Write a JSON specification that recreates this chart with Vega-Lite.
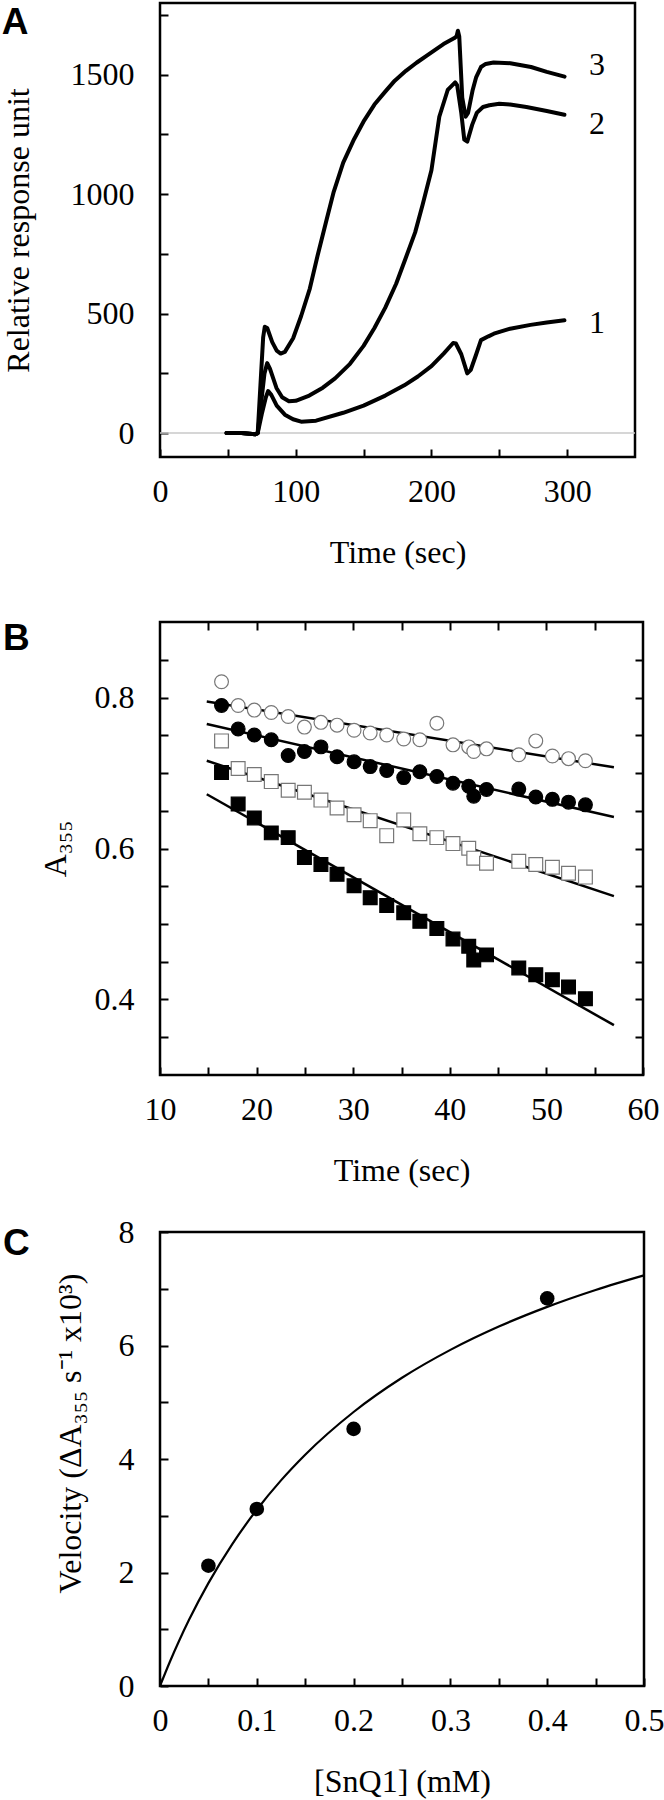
{
  "$schema": "https://vega.github.io/schema/vega-lite/v6.json",
  "padding": {"left": 0, "top": 1, "right": 0, "bottom": 0},
  "config": {
    "view": {"stroke": "#000", "strokeWidth": 2.5},
    "font": "Liberation Serif",
    "axis": {"grid": false, "domain": false, "tickColor": "#000", "tickWidth": 2, "tickSize": -8,
      "labelFont": "Liberation Serif", "labelFontSize": 32, "labelColor": "#000",
      "titleFont": "Liberation Serif", "titleFontSize": 32, "titleFontWeight": "normal", "titleColor": "#000",
      "labelOverlap": false, "labelFlush": false},
    "axisX": {"labelPadding": 27, "titlePadding": 30},
    "axisY": {"labelPadding": 34}
  },
  "datasets": {
    "spr": [
      {"c": "1", "t": 49, "r": 0}, {"c": "1", "t": 60, "r": 0}, {"c": "1", "t": 70, "r": -5}, {"c": "1", "t": 72, "r": 0}, {"c": "1", "t": 75, "r": 80}, {"c": "1", "t": 78, "r": 150}, {"c": "1", "t": 79.7, "r": 176}, {"c": "1", "t": 82, "r": 160}, {"c": "1", "t": 86, "r": 115}, {"c": "1", "t": 92, "r": 77}, {"c": "1", "t": 98, "r": 58}, {"c": "1", "t": 104, "r": 48}, {"c": "1", "t": 115, "r": 52}, {"c": "1", "t": 135, "r": 85}, {"c": "1", "t": 150, "r": 115}, {"c": "1", "t": 166, "r": 157}, {"c": "1", "t": 180, "r": 200}, {"c": "1", "t": 190, "r": 237}, {"c": "1", "t": 200, "r": 280}, {"c": "1", "t": 209, "r": 333}, {"c": "1", "t": 216, "r": 377}, {"c": "1", "t": 218, "r": 375}, {"c": "1", "t": 222, "r": 330}, {"c": "1", "t": 226.4, "r": 250}, {"c": "1", "t": 229, "r": 265}, {"c": "1", "t": 233, "r": 330}, {"c": "1", "t": 236.5, "r": 389}, {"c": "1", "t": 242, "r": 405}, {"c": "1", "t": 246, "r": 416}, {"c": "1", "t": 258, "r": 437}, {"c": "1", "t": 273, "r": 453}, {"c": "1", "t": 285, "r": 463}, {"c": "1", "t": 298, "r": 472},
      {"c": "2", "t": 49, "r": 0}, {"c": "2", "t": 60, "r": 0}, {"c": "2", "t": 70, "r": -5}, {"c": "2", "t": 72, "r": 0}, {"c": "2", "t": 75, "r": 150}, {"c": "2", "t": 77, "r": 250}, {"c": "2", "t": 79, "r": 293}, {"c": "2", "t": 81, "r": 270}, {"c": "2", "t": 85.8, "r": 189}, {"c": "2", "t": 90, "r": 150}, {"c": "2", "t": 95, "r": 133}, {"c": "2", "t": 100, "r": 135}, {"c": "2", "t": 110, "r": 157}, {"c": "2", "t": 120, "r": 190}, {"c": "2", "t": 129, "r": 229}, {"c": "2", "t": 140, "r": 290}, {"c": "2", "t": 150, "r": 365}, {"c": "2", "t": 158, "r": 440}, {"c": "2", "t": 166, "r": 525}, {"c": "2", "t": 174, "r": 625}, {"c": "2", "t": 181, "r": 732}, {"c": "2", "t": 188, "r": 840}, {"c": "2", "t": 193.5, "r": 956}, {"c": "2", "t": 200, "r": 1100}, {"c": "2", "t": 205.8, "r": 1324}, {"c": "2", "t": 212, "r": 1436}, {"c": "2", "t": 217.5, "r": 1468}, {"c": "2", "t": 219, "r": 1455}, {"c": "2", "t": 222, "r": 1340}, {"c": "2", "t": 224.2, "r": 1228}, {"c": "2", "t": 226.4, "r": 1220}, {"c": "2", "t": 230, "r": 1290}, {"c": "2", "t": 233.4, "r": 1340}, {"c": "2", "t": 238, "r": 1365}, {"c": "2", "t": 242.7, "r": 1372}, {"c": "2", "t": 250, "r": 1378}, {"c": "2", "t": 258, "r": 1375}, {"c": "2", "t": 270, "r": 1365}, {"c": "2", "t": 285, "r": 1348}, {"c": "2", "t": 298, "r": 1332},
      {"c": "3", "t": 49, "r": 0}, {"c": "3", "t": 60, "r": 0}, {"c": "3", "t": 70, "r": -5}, {"c": "3", "t": 72, "r": 0}, {"c": "3", "t": 74, "r": 200}, {"c": "3", "t": 76, "r": 400}, {"c": "3", "t": 77.2, "r": 445}, {"c": "3", "t": 79, "r": 440}, {"c": "3", "t": 82.7, "r": 381}, {"c": "3", "t": 86, "r": 345}, {"c": "3", "t": 88.9, "r": 333}, {"c": "3", "t": 92, "r": 340}, {"c": "3", "t": 98.1, "r": 397}, {"c": "3", "t": 104, "r": 490}, {"c": "3", "t": 110.4, "r": 605}, {"c": "3", "t": 116, "r": 740}, {"c": "3", "t": 122.7, "r": 892}, {"c": "3", "t": 128, "r": 1010}, {"c": "3", "t": 135, "r": 1132}, {"c": "3", "t": 143, "r": 1230}, {"c": "3", "t": 150.4, "r": 1308}, {"c": "3", "t": 158, "r": 1375}, {"c": "3", "t": 165.8, "r": 1428}, {"c": "3", "t": 173, "r": 1475}, {"c": "3", "t": 181.2, "r": 1516}, {"c": "3", "t": 189, "r": 1550}, {"c": "3", "t": 196.6, "r": 1580}, {"c": "3", "t": 203, "r": 1605}, {"c": "3", "t": 208.9, "r": 1628}, {"c": "3", "t": 216.6, "r": 1652}, {"c": "3", "t": 218.5, "r": 1660}, {"c": "3", "t": 219.5, "r": 1684}, {"c": "3", "t": 220.5, "r": 1660}, {"c": "3", "t": 222.7, "r": 1404}, {"c": "3", "t": 225.2, "r": 1324}, {"c": "3", "t": 227, "r": 1340}, {"c": "3", "t": 230.4, "r": 1436}, {"c": "3", "t": 233, "r": 1490}, {"c": "3", "t": 236.5, "r": 1532}, {"c": "3", "t": 240, "r": 1545}, {"c": "3", "t": 245.8, "r": 1551}, {"c": "3", "t": 258.1, "r": 1548}, {"c": "3", "t": 273.4, "r": 1532}, {"c": "3", "t": 285, "r": 1512}, {"c": "3", "t": 298.1, "r": 1492}
    ],
    "sprLabels": [
      {"lab": "3", "t": 322, "r": 1541}, {"lab": "2", "t": 322, "r": 1294}, {"lab": "1", "t": 322, "r": 462}
    ],
    "abs": [
      {"s": "oc", "t": 16.37, "a": 0.8209}, {"s": "oc", "t": 18.09, "a": 0.7895}, {"s": "oc", "t": 19.76, "a": 0.7833}, {"s": "oc", "t": 21.52, "a": 0.7801}, {"s": "oc", "t": 23.27, "a": 0.7749}, {"s": "oc", "t": 24.95, "a": 0.7608}, {"s": "oc", "t": 26.66, "a": 0.7671}, {"s": "oc", "t": 28.33, "a": 0.7634}, {"s": "oc", "t": 30.09, "a": 0.7566}, {"s": "oc", "t": 31.76, "a": 0.7529}, {"s": "oc", "t": 33.47, "a": 0.7503}, {"s": "oc", "t": 35.23, "a": 0.7451}, {"s": "oc", "t": 36.9, "a": 0.744}, {"s": "oc", "t": 38.66, "a": 0.766}, {"s": "oc", "t": 40.33, "a": 0.7373}, {"s": "oc", "t": 41.96, "a": 0.7346}, {"s": "oc", "t": 42.48, "a": 0.7284}, {"s": "oc", "t": 43.8, "a": 0.732}, {"s": "oc", "t": 47.14, "a": 0.7242}, {"s": "oc", "t": 48.9, "a": 0.7425}, {"s": "oc", "t": 50.62, "a": 0.7226}, {"s": "oc", "t": 52.29, "a": 0.719}, {"s": "oc", "t": 54.04, "a": 0.7163},
      {"s": "fc", "t": 16.37, "a": 0.7895}, {"s": "fc", "t": 18.09, "a": 0.7582}, {"s": "fc", "t": 19.76, "a": 0.7503}, {"s": "fc", "t": 21.52, "a": 0.744}, {"s": "fc", "t": 23.27, "a": 0.7231}, {"s": "fc", "t": 24.95, "a": 0.7284}, {"s": "fc", "t": 26.66, "a": 0.7346}, {"s": "fc", "t": 28.33, "a": 0.7216}, {"s": "fc", "t": 30.09, "a": 0.7148}, {"s": "fc", "t": 31.76, "a": 0.7085}, {"s": "fc", "t": 33.47, "a": 0.7033}, {"s": "fc", "t": 35.23, "a": 0.6939}, {"s": "fc", "t": 36.9, "a": 0.7017}, {"s": "fc", "t": 38.66, "a": 0.6954}, {"s": "fc", "t": 40.33, "a": 0.6865}, {"s": "fc", "t": 41.96, "a": 0.6824}, {"s": "fc", "t": 42.48, "a": 0.6693}, {"s": "fc", "t": 43.8, "a": 0.6782}, {"s": "fc", "t": 47.14, "a": 0.6787}, {"s": "fc", "t": 48.9, "a": 0.6682}, {"s": "fc", "t": 50.62, "a": 0.6651}, {"s": "fc", "t": 52.29, "a": 0.6614}, {"s": "fc", "t": 54.04, "a": 0.6578},
      {"s": "os", "t": 16.37, "a": 0.7425}, {"s": "os", "t": 18.09, "a": 0.7059}, {"s": "os", "t": 19.76, "a": 0.698}, {"s": "os", "t": 21.52, "a": 0.6886}, {"s": "os", "t": 23.27, "a": 0.6771}, {"s": "os", "t": 24.95, "a": 0.6745}, {"s": "os", "t": 26.66, "a": 0.6641}, {"s": "os", "t": 28.33, "a": 0.6536}, {"s": "os", "t": 30.09, "a": 0.6447}, {"s": "os", "t": 31.76, "a": 0.6369}, {"s": "os", "t": 33.47, "a": 0.617}, {"s": "os", "t": 35.23, "a": 0.6379}, {"s": "os", "t": 36.9, "a": 0.6196}, {"s": "os", "t": 38.66, "a": 0.6144}, {"s": "os", "t": 40.33, "a": 0.6065}, {"s": "os", "t": 41.96, "a": 0.6003}, {"s": "os", "t": 42.48, "a": 0.5872}, {"s": "os", "t": 43.8, "a": 0.5804}, {"s": "os", "t": 47.14, "a": 0.583}, {"s": "os", "t": 48.9, "a": 0.5788}, {"s": "os", "t": 50.62, "a": 0.5752}, {"s": "os", "t": 52.29, "a": 0.5673}, {"s": "os", "t": 54.04, "a": 0.5621},
      {"s": "fs", "t": 16.37, "a": 0.7007}, {"s": "fs", "t": 18.09, "a": 0.6588}, {"s": "fs", "t": 19.76, "a": 0.6405}, {"s": "fs", "t": 21.52, "a": 0.6207}, {"s": "fs", "t": 23.27, "a": 0.6144}, {"s": "fs", "t": 24.95, "a": 0.5882}, {"s": "fs", "t": 26.66, "a": 0.5788}, {"s": "fs", "t": 28.33, "a": 0.5658}, {"s": "fs", "t": 30.09, "a": 0.5506}, {"s": "fs", "t": 31.76, "a": 0.5349}, {"s": "fs", "t": 33.47, "a": 0.5244}, {"s": "fs", "t": 35.23, "a": 0.515}, {"s": "fs", "t": 36.9, "a": 0.5035}, {"s": "fs", "t": 38.66, "a": 0.4941}, {"s": "fs", "t": 40.33, "a": 0.48}, {"s": "fs", "t": 41.96, "a": 0.4706}, {"s": "fs", "t": 42.48, "a": 0.4523}, {"s": "fs", "t": 43.8, "a": 0.4591}, {"s": "fs", "t": 47.14, "a": 0.4418}, {"s": "fs", "t": 48.9, "a": 0.4329}, {"s": "fs", "t": 50.62, "a": 0.4261}, {"s": "fs", "t": 52.29, "a": 0.4167}, {"s": "fs", "t": 54.04, "a": 0.401}
    ],
    "fits": [
      {"s": "oc", "t": 14.84, "a": 0.7948}, {"s": "oc", "t": 56.99, "a": 0.7075},
      {"s": "fc", "t": 14.84, "a": 0.765}, {"s": "fc", "t": 56.99, "a": 0.6416},
      {"s": "os", "t": 14.84, "a": 0.7163}, {"s": "os", "t": 56.99, "a": 0.537},
      {"s": "fs", "t": 14.84, "a": 0.6719}, {"s": "fs", "t": 56.99, "a": 0.366}
    ],
    "vel": [
      {"c": 0.05, "v": 2.12}, {"c": 0.1, "v": 3.12}, {"c": 0.2, "v": 4.53}, {"c": 0.4, "v": 6.83}
    ],
    "mm": [
      {"c": 0, "v": 0}, {"c": 0.01, "v": 0.419}, {"c": 0.02, "v": 0.806}, {"c": 0.03, "v": 1.166}, {"c": 0.05, "v": 1.813}, {"c": 0.075, "v": 2.509}, {"c": 0.1, "v": 3.106}, {"c": 0.125, "v": 3.623}, {"c": 0.15, "v": 4.075}, {"c": 0.2, "v": 4.828}, {"c": 0.25, "v": 5.431}, {"c": 0.3, "v": 5.923}, {"c": 0.35, "v": 6.334}, {"c": 0.4, "v": 6.681}, {"c": 0.45, "v": 6.979}, {"c": 0.5, "v": 7.236}
    ]
  },
  "spacing": 48,
  "vconcat": [
    {
      "width": 475, "height": 454,
      "layer": [
        {
          "data": {"values": [{"z": 0}]},
          "mark": {"type": "rule", "color": "#c8c8c8", "strokeWidth": 1.5},
          "encoding": {"y": {"field": "z", "type": "quantitative"}}
        },
        {
          "data": {"name": "spr"},
          "mark": {"type": "line", "color": "#000", "strokeWidth": 4, "strokeJoin": "round", "strokeCap": "round"},
          "encoding": {
            "x": {"field": "t", "type": "quantitative", "scale": {"domain": [0, 350], "nice": false, "zero": false},
              "axis": {"title": "Time (sec)", "values": [0, 25, 50, 75, 100, 125, 150, 175, 200, 225, 250, 275, 300, 325],
                "labelExpr": "datum.value % 100 == 0 ? '' + datum.value : ''",
                "labelFontSize": {"condition": {"test": "datum.value % 100 != 0", "value": 0}, "value": 32}}},
            "y": {"field": "r", "type": "quantitative", "scale": {"domain": [-100, 1800], "nice": false, "zero": false},
              "axis": {"title": "Relative response unit", "titlePadding": 35, "values": [0, 250, 500, 750, 1000, 1250, 1500, 1750],
                "labelExpr": "datum.value % 500 == 0 ? '' + datum.value : ''",
                "labelFontSize": {"condition": {"test": "datum.value % 500 != 0", "value": 0}, "value": 32}}},
            "detail": {"field": "c"}
          }
        },
        {
          "data": {"name": "sprLabels"},
          "mark": {"type": "text", "font": "Liberation Serif", "fontSize": 32, "color": "#000", "align": "center", "baseline": "middle"},
          "encoding": {
            "x": {"field": "t", "type": "quantitative"},
            "y": {"field": "r", "type": "quantitative"},
            "text": {"field": "lab"}
          }
        },
        {
          "data": {"values": [{}]},
          "mark": {"type": "text", "text": "A", "font": "Liberation Sans", "fontWeight": "bold", "fontSize": 37, "color": "#000", "align": "left", "baseline": "alphabetic"},
          "encoding": {
            "x": {"datum": -116.6, "type": "quantitative"},
            "y": {"datum": 1670, "type": "quantitative"}
          }
        }
      ]
    },
    {
      "spacing": 26,
      "vconcat": [
        {
          "width": 483, "height": 453,
          "resolve": {"axis": {"x": "independent", "y": "independent"}},
          "layer": [
            {
              "data": {"name": "fits"},
              "mark": {"type": "line", "color": "#000", "strokeWidth": 2.5},
              "encoding": {
                "x": {"field": "t", "type": "quantitative", "scale": {"domain": [10, 60], "nice": false, "zero": false},
                  "axis": {"orient": "bottom", "title": "Time (sec)", "values": [10, 15, 20, 25, 30, 35, 40, 45, 50, 55, 60],
                    "labelExpr": "datum.value % 10 == 0 ? '' + datum.value : ''",
                    "labelFontSize": {"condition": {"test": "datum.value % 10 != 0", "value": 0}, "value": 32}}},
                "y": {"field": "a", "type": "quantitative", "scale": {"domain": [0.3, 0.9], "nice": false, "zero": false},
                  "axis": {"orient": "left", "title": "A₃₅₅", "titlePadding": 22, "values": [0.35, 0.4, 0.45, 0.5, 0.55, 0.6, 0.65, 0.7, 0.75, 0.8, 0.85],
                    "labelExpr": "abs(datum.value*10 - round(datum.value*10)) < 0.01 && round(datum.value*10) % 2 == 0 ? format(datum.value, '.1f') : ''"}},
                "detail": {"field": "s"}
              }
            },
            {
              "data": {"name": "abs"},
              "mark": {"type": "point", "filled": true, "strokeWidth": 1.2, "opacity": 1},
              "encoding": {
                "x": {"field": "t", "type": "quantitative", "scale": {"domain": [10, 60], "nice": false, "zero": false},
                  "axis": {"orient": "top", "title": null, "labels": false, "values": [15, 20, 25, 30, 35, 40, 45, 50, 55]}},
                "y": {"field": "a", "type": "quantitative", "scale": {"domain": [0.3, 0.9], "nice": false, "zero": false},
                  "axis": {"orient": "right", "title": null, "labels": false, "values": [0.35, 0.4, 0.45, 0.5, 0.55, 0.6, 0.65, 0.7, 0.75, 0.8, 0.85]}},
                "shape": {"field": "s", "type": "nominal", "scale": {"domain": ["oc", "fc", "os", "fs"], "range": ["circle", "circle", "square", "square"]}, "legend": null},
                "fill": {"field": "s", "type": "nominal", "scale": {"domain": ["oc", "fc", "os", "fs"], "range": ["#ffffff", "#000000", "#ffffff", "#000000"]}, "legend": null},
                "stroke": {"field": "s", "type": "nominal", "scale": {"domain": ["oc", "fc", "os", "fs"], "range": ["#777777", "#000000", "#777777", "#000000"]}, "legend": null},
                "size": {"field": "s", "type": "nominal", "scale": {"domain": ["oc", "fc", "os", "fs"], "range": [190, 190, 210, 210]}, "legend": null}
              }
            },
            {
              "data": {"values": [{}]},
              "mark": {"type": "text", "text": "B", "font": "Liberation Sans", "fontWeight": "bold", "fontSize": 37, "color": "#000", "align": "left", "baseline": "alphabetic"},
              "encoding": {
                "x": {"datum": -6.25, "type": "quantitative", "axis": null},
                "y": {"datum": 0.863, "type": "quantitative", "axis": null}
              }
            }
          ]
        },
        {
          "width": 484, "height": 454,
          "layer": [
            {
              "data": {"name": "mm"},
              "mark": {"type": "line", "color": "#000", "strokeWidth": 2.2, "interpolate": "monotone"},
              "encoding": {
                "x": {"field": "c", "type": "quantitative", "scale": {"domain": [0, 0.5], "nice": false, "zero": false},
                  "axis": {"title": "[SnQ1] (mM)", "values": [0, 0.05, 0.1, 0.15, 0.2, 0.25, 0.3, 0.35, 0.4, 0.45, 0.5],
                    "labelExpr": "abs(datum.value*10 - round(datum.value*10)) < 0.01 ? (datum.value == 0 ? '0' : format(datum.value, '.1f')) : ''"}},
                "y": {"field": "v", "type": "quantitative", "scale": {"domain": [0, 8], "nice": false, "zero": false},
                  "axis": {"title": "Velocity (ΔA₃₅₅ s⁻¹ x10³)", "titlePadding": 31, "titleY": 201, "values": [0, 1, 2, 3, 4, 5, 6, 7, 8],
                    "labelExpr": "datum.value % 2 == 0 ? '' + datum.value : ''"}}
              }
            },
            {
              "data": {"name": "vel"},
              "mark": {"type": "point", "filled": true, "color": "#000", "size": 214, "opacity": 1},
              "encoding": {
                "x": {"field": "c", "type": "quantitative"},
                "y": {"field": "v", "type": "quantitative"}
              }
            },
            {
              "data": {"values": [{}]},
              "mark": {"type": "text", "text": "C", "font": "Liberation Sans", "fontWeight": "bold", "fontSize": 37, "color": "#000", "align": "left", "baseline": "alphabetic"},
              "encoding": {
                "x": {"datum": -0.1622, "type": "quantitative"},
                "y": {"datum": 7.595, "type": "quantitative"}
              }
            }
          ]
        }
      ]
    }
  ]
}
